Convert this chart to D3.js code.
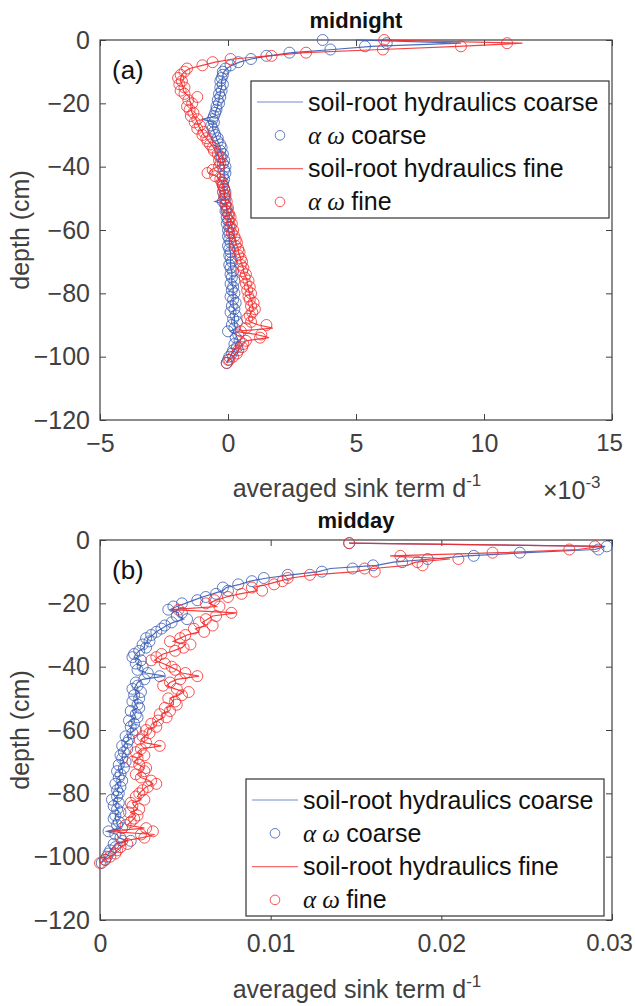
<!DOCTYPE html>
<html>
<head>
<meta charset="utf-8">
<script src="https://cdn.jsdelivr.net/npm/d3@7"></script>
<style>
  body { margin: 0; background: #fff; }
  svg { display: block; font-family: "Liberation Sans", Arial, sans-serif; }
</style>
</head>
<body>
<div id="chart"></div>
<script>
// depth of every layer (cm)
const depth = [0,-1,-2,-3,-4,-5,-6,-7,-8,-9,-10,-11,-12,-13,-14,-15,-16,-17,-18,-19,
  -20,-21,-22,-23,-24,-25,-26,-27,-28,-29,-30,-31,-32,-33,-34,-35,-36,-37,-38,-39,
  -40,-41,-42,-43,-44,-45,-46,-47,-48,-49,-50,-51,-52,-53,-54,-55,-56,-57,-58,-59,
  -60,-61,-62,-63,-64,-65,-66,-67,-68,-69,-70,-71,-72,-73,-74,-75,-76,-77,-78,-79,
  -80,-81,-82,-83,-84,-85,-86,-87,-88,-89,-90,-91,-92,-93,-94,-95,-96,-97,-98,-99,
  -100,-101,-102];

// (a) midnight, values x 1e-3
const aCoarseLine = [5.0,9.1,5.6,4.1,2.5,1.6,0.9,0.45,0.15,-0.05,
  -0.15,-0.2,-0.2,-0.25,-0.25,-0.25,-0.3,-0.3,-0.35,-0.35,
  -0.4,-0.4,-0.45,-0.5,-0.5,-1.0,-0.55,-0.6,-0.6,-0.55,
  -0.5,-0.45,-0.4,-0.35,-0.3,-0.3,-0.25,-0.2,-0.2,-0.2,
  -0.15,-0.15,-0.15,-0.15,-0.15,-0.2,-0.15,-0.15,-0.1,-0.15,
  -0.1,-0.5,-0.1,-0.05,-0.05,-0.05,0,0,0,0.05,
  0,0.05,0.05,0.05,0.05,0.05,0.05,0.1,0.1,0.1,
  0.1,0.1,0.1,0.15,0.15,0.15,0.15,0.15,0.2,0.2,
  0.2,0.2,0.2,0.2,0.2,0.25,0.2,0.25,0.25,0.25,
  0.25,0.3,0.1,0.3,0.35,0.4,0.3,0.3,0.25,0.15,
  0.1,0.0,-0.05];
const aCoarsePts = [3.7,6.2,5.35,4.0,2.4,1.5,0.9,0.4,0.1,-0.1,
  -0.2,-0.2,-0.25,-0.3,-0.2,-0.3,-0.25,-0.35,-0.3,-0.4,
  -0.35,-0.45,-0.45,-0.5,-0.55,-0.6,-0.55,-0.65,-0.6,-0.55,
  -0.5,-0.4,-0.4,-0.3,-0.25,-0.3,-0.2,-0.25,-0.15,-0.2,
  -0.1,-0.15,-0.1,-0.2,-0.15,-0.2,-0.2,-0.15,-0.1,-0.15,
  -0.1,-0.2,-0.1,-0.05,-0.1,0,-0.05,0,-0.05,0.05,
  0,0.05,0,0.05,0.1,0,0.05,0.1,0.05,0.1,
  0.15,0.05,0.1,0.2,0.1,0.15,0.25,0.1,0.2,0.15,
  0.25,0.1,0.2,0.3,0.15,0.25,0.1,0.3,0.2,0.35,
  0.15,0.25,0.0,0.4,0.3,0.45,0.25,0.35,0.2,0.15,
  0.05,0.0,-0.05];
const aFineLine = [6.0,11.5,9.0,6.0,3.0,1.6,0.2,-0.5,-1.0,-1.5,
  -1.7,-1.8,-1.85,-1.85,-1.8,-1.75,-1.75,-1.65,-1.5,-1.5,
  -1.45,-1.45,-1.45,-1.4,-1.35,-1.25,-1.2,-1.15,-1.1,-1.0,
  -0.95,-0.85,-0.75,-0.65,-0.55,-0.5,-0.4,-0.35,-0.3,-0.3,
  -0.4,-0.65,-0.75,-0.45,-0.3,-0.25,-0.2,-0.2,-0.15,-0.15,
  -0.1,-0.1,-0.05,-0.05,0,0.05,0.05,0.1,0.1,0.15,
  0.15,0.2,0.25,0.3,0.3,0.35,0.4,0.4,0.45,0.5,
  0.5,0.55,0.6,0.6,0.65,0.7,0.75,0.75,0.8,0.8,
  0.85,0.85,0.9,0.95,0.95,1.0,0.9,0.85,0.8,0.85,
  1.2,1.75,0.3,1.1,1.6,0.7,0.55,0.5,0.4,0.3,
  0.2,0.05,-0.05];
const aFinePts = [6.1,10.9,9.1,6.05,3.05,1.7,0.1,-0.6,-1.0,-1.6,
  -1.7,-1.85,-1.95,-1.8,-1.9,-1.7,-1.85,-1.7,-1.2,-1.55,
  -1.4,-1.6,-1.5,-1.35,-1.45,-1.2,-1.3,-1.1,-1.2,-0.95,
  -1.0,-0.85,-0.8,-0.7,-0.6,-0.55,-0.4,-0.3,-0.35,-0.3,
  -0.35,-0.6,-0.8,-0.5,-0.3,-0.25,-0.2,-0.15,-0.2,-0.1,
  -0.15,-0.05,-0.1,0,-0.05,0.05,0.1,0.05,0.15,0.1,
  0.2,0.15,0.25,0.3,0.35,0.3,0.4,0.45,0.4,0.5,
  0.55,0.5,0.6,0.55,0.7,0.65,0.8,0.7,0.85,0.75,
  0.9,0.8,0.85,1.0,0.9,1.05,0.95,0.85,0.75,0.9,
  1.5,0.7,0.5,1.3,1.25,0.7,0.6,0.55,0.4,0.35,
  0.2,0.05,-0.05];

// (b) midday
const bCoarseLine = [null,0.0146,0.0296,0.0290,0.0250,0.0215,0.0195,0.0172,0.0162,0.0135,
  0.0128,0.0112,0.0098,0.0088,0.0082,0.0074,0.0072,0.0066,0.0060,0.0055,
  0.0050,0.0045,0.0041,0.0046,0.0046,0.0049,0.0043,0.0039,0.0036,0.0033,
  0.0031,0.0028,0.0028,0.0026,0.0026,0.0023,0.0021,0.0020,0.0023,0.0022,
  0.0024,0.0023,0.0027,0.0038,0.0025,0.0022,0.0021,0.0020,0.0023,0.0021,
  0.0022,0.0020,0.0021,0.0022,0.0019,0.0020,0.0021,0.0018,0.0019,0.0018,
  0.0020,0.0018,0.0016,0.0017,0.0015,0.0014,0.0015,0.0014,0.0013,0.0013,
  0.0014,0.0012,0.0013,0.0011,0.0012,0.0011,0.0012,0.0010,0.0011,0.0010,
  0.0011,0.0010,0.0008,0.0010,0.0009,0.0010,0.0011,0.0009,0.0009,0.0010,
  0.0010,0.0012,0.0004,0.0010,0.0011,0.0016,0.0009,0.0008,0.0006,0.0005,
  0.0004,0.0002,0.0001];
const bCoarsePts = [null,0.0146,0.0297,0.0292,0.0246,0.0219,0.0192,0.0177,0.0160,0.0148,
  0.0130,0.0110,0.0096,0.0089,0.0081,0.0072,0.0075,0.0068,0.0062,0.0057,
  0.0048,0.0043,0.0040,0.0048,0.0045,0.0051,0.0042,0.0038,0.0036,0.0033,
  0.0030,0.0027,0.0029,0.0025,0.0027,0.0023,0.0020,0.0019,0.0024,0.0021,
  0.0025,0.0022,0.0028,0.0035,0.0026,0.0021,0.0022,0.0019,0.0024,0.0020,
  0.0023,0.0019,0.0022,0.0023,0.0018,0.0021,0.0022,0.0017,0.0020,0.0018,
  0.0021,0.0019,0.0015,0.0017,0.0016,0.0013,0.0016,0.0014,0.0012,0.0013,
  0.0015,0.0011,0.0014,0.0010,0.0012,0.0011,0.0013,0.0009,0.0012,0.0010,
  0.0011,0.0010,0.0007,0.0011,0.0008,0.0010,0.0012,0.0009,0.0008,0.0011,
  0.0010,0.0013,0.0005,0.0009,0.0012,0.0018,0.0008,0.0009,0.0006,0.0005,
  0.0004,0.0003,0.0001];
const bFineLine = [null,0.0146,0.0294,0.0280,0.0235,0.0170,0.0205,0.0185,0.0180,0.0160,
  0.0150,0.0125,0.0112,0.0105,0.0098,0.0090,0.0092,0.0082,0.0074,0.0068,
  0.0064,0.0068,0.0042,0.0080,0.0066,0.0063,0.0060,0.0062,0.0056,0.0058,
  0.0051,0.0047,0.0043,0.0050,0.0048,0.0043,0.0037,0.0034,0.0032,0.0037,
  0.0041,0.0045,0.0048,0.0058,0.0045,0.0041,0.0039,0.0044,0.0049,0.0046,
  0.0041,0.0043,0.0043,0.0039,0.0040,0.0036,0.0037,0.0034,0.0031,0.0032,
  0.0028,0.0028,0.0026,0.0024,0.0026,0.0036,0.0024,0.0022,0.0025,0.0022,
  0.0020,0.0023,0.0026,0.0025,0.0022,0.0024,0.0029,0.0031,0.0027,0.0025,
  0.0023,0.0022,0.0024,0.0019,0.0020,0.0022,0.0018,0.0021,0.0020,0.0018,
  0.0016,0.0026,0.0005,0.0032,0.0025,0.0014,0.0015,0.0012,0.0010,0.0009,
  0.0006,0.0003,0.0000];
const bFinePts = [null,0.0146,0.0290,0.0275,0.0230,0.0176,0.0210,0.0186,0.0189,0.0155,
  0.0161,0.0123,0.0110,0.0107,0.0102,0.0089,0.0095,0.0083,0.0075,0.0067,
  0.0062,0.0070,0.0046,0.0077,0.0068,0.0062,0.0058,0.0066,0.0055,0.0061,
  0.0050,0.0047,0.0041,0.0053,0.0049,0.0044,0.0036,0.0033,0.0030,0.0038,
  0.0042,0.0044,0.0050,0.0057,0.0047,0.0041,0.0037,0.0045,0.0052,0.0048,
  0.0040,0.0044,0.0045,0.0038,0.0041,0.0035,0.0039,0.0034,0.0030,0.0033,
  0.0027,0.0029,0.0025,0.0023,0.0027,0.0035,0.0024,0.0021,0.0026,0.0022,
  0.0019,0.0023,0.0027,0.0026,0.0021,0.0024,0.0030,0.0033,0.0028,0.0025,
  0.0023,0.0021,0.0026,0.0018,0.0019,0.0023,0.0017,0.0022,0.0020,0.0018,
  0.0015,0.0027,0.0031,0.0024,0.0026,0.0013,0.0016,0.0012,0.0010,0.0009,
  0.0006,0.0003,0.0000];

const yTicks = [0, -20, -40, -60, -80, -100, -120];
const aXTicks = [-5, 0, 5, 10, 15];
const bXTicks = [0, 0.01, 0.02, 0.03];
const legendLabels = ["soil-root hydraulics coarse", "coarse", "soil-root hydraulics fine", "fine"];

const BLUE = "#3a5cb4", RED = "#f52a2a", AX = "#404040";

const svg = d3.select("#chart").append("svg")
  .attr("width", 635).attr("height", 1006);

function panel(o) {
  const left = 100, right = 612, top = o.top, bottom = o.top + 380;
  const x = d3.scaleLinear().domain(o.xDomain).range([left, right]);
  const y = d3.scaleLinear().domain([-120, 0]).range([bottom, top]);
  const g = svg.append("g");

  // axes (MATLAB box with inward ticks)
  const xAx = g.append("g").attr("transform", `translate(0,${bottom})`)
    .call(d3.axisBottom(x).tickValues(o.xTicks).tickSize(-6).tickPadding(14).tickFormat(o.fmt))
    .call(a => a.select(".domain").remove());
  g.append("g").attr("transform", `translate(0,${top})`)
    .call(d3.axisTop(x).tickValues(o.xTicks).tickSize(-6).tickFormat(""))
    .call(a => a.select(".domain").remove());
  g.append("g").attr("transform", `translate(${left},0)`)
    .call(d3.axisLeft(y).tickValues(yTicks).tickSize(-6).tickPadding(10))
    .call(a => a.select(".domain").remove());
  g.append("g").attr("transform", `translate(${right},0)`)
    .call(d3.axisRight(y).tickValues(yTicks).tickSize(-6).tickFormat(""))
    .call(a => a.select(".domain").remove());
  g.selectAll(".tick line").attr("stroke", AX);
  g.selectAll(".tick text").attr("fill", AX).attr("font-size", 25)
    .attr("font-family", "Liberation Sans, Arial, sans-serif");
  // keep the last x label inside the page
  xAx.selectAll(".tick text").filter(d => d === o.xTicks[o.xTicks.length - 1])
    .attr("font-size", 24).attr("dx", -3);
  g.append("rect").attr("x", left).attr("y", top)
    .attr("width", right - left).attr("height", bottom - top)
    .attr("fill", "none").attr("stroke", AX).attr("stroke-width", 1.2);

  const series = [
    { v: o.coarseLine, pts: o.coarsePts, c: BLUE },
    { v: o.fineLine, pts: o.finePts, c: RED }
  ];
  series.forEach(s => {
    const line = d3.line()
      .defined((d, i) => s.v[i] != null)
      .x((d, i) => x(s.v[i]))
      .y(d => y(d));
    g.append("path").datum(depth)
      .attr("fill", "none").attr("stroke", s.c).attr("stroke-width", 1.2)
      .attr("stroke-opacity", 0.9).attr("d", line);
    g.append("g").selectAll("circle")
      .data(depth.filter((d, i) => s.pts[i] != null).map(d => ({ d, v: s.pts[-d] })))
      .join("circle")
      .attr("cx", p => x(p.v)).attr("cy", p => y(p.d)).attr("r", 5.5)
      .attr("fill", "none").attr("stroke", s.c).attr("stroke-width", 1)
      .attr("stroke-opacity", 0.8);
  });

  // title and panel letter
  g.append("text").attr("x", (left + right) / 2).attr("y", top - 12)
    .attr("text-anchor", "middle").attr("font-weight", "bold").attr("font-size", 22)
    .attr("fill", "#111").text(o.title);
  g.append("text").attr("x", 112).attr("y", top + 39)
    .attr("font-size", 26).attr("fill", "#111").text(o.letter);

  // axis labels
  const xl = g.append("text").attr("x", o.xLabelX).attr("y", o.xLabelY)
    .attr("text-anchor", "middle").attr("font-size", 25).attr("fill", AX);
  xl.append("tspan").text("averaged sink term d");
  xl.append("tspan").attr("dy", -11).attr("font-size", 17).text("-1");
  g.append("text")
    .attr("transform", `translate(29,${(top + bottom) / 2}) rotate(-90)`)
    .attr("text-anchor", "middle").attr("font-size", 25).attr("fill", AX)
    .text("depth (cm)");

  // legend
  const lg = g.append("g").attr("transform", `translate(${o.leg[0]},${o.leg[1]})`);
  lg.append("rect").attr("width", 358).attr("height", 137)
    .attr("fill", "#fff").attr("stroke", "#333").attr("stroke-width", 1.2);
  const rows = [
    { t: "line", c: BLUE, label: legendLabels[0], greek: false },
    { t: "pt", c: BLUE, label: legendLabels[1], greek: true },
    { t: "line", c: RED, label: legendLabels[2], greek: false },
    { t: "pt", c: RED, label: legendLabels[3], greek: true }
  ];
  rows.forEach((r, i) => {
    const cy = 21 + i * 33.3;
    if (r.t === "line") {
      lg.append("line").attr("x1", 6).attr("x2", 52).attr("y1", cy).attr("y2", cy)
        .attr("stroke", r.c).attr("stroke-width", 1.2).attr("stroke-opacity", 0.7);
    } else {
      lg.append("circle").attr("cx", 29).attr("cy", cy).attr("r", 4.8)
        .attr("fill", "none").attr("stroke", r.c).attr("stroke-opacity", 0.8);
    }
    const tx = lg.append("text").attr("x", 57).attr("y", cy + 8.5)
      .attr("font-size", 25).attr("fill", "#111");
    if (r.greek) {
      tx.append("tspan").attr("font-family", "Liberation Serif, serif")
        .attr("font-style", "italic").text("\u03b1 \u03c9 ");
    }
    tx.append("tspan").text(r.label);
  });
  return g;
}

const pa = panel({
  top: 40, xDomain: [-5, 15], xTicks: aXTicks, fmt: d3.format("d"),
  coarseLine: aCoarseLine, coarsePts: aCoarsePts, fineLine: aFineLine, finePts: aFinePts,
  title: "midnight", letter: "(a)", xLabelX: 357, xLabelY: 497, leg: [251, 81]
});
// exponent of the midnight axis
const ex = pa.append("text").attr("x", 543).attr("y", 499)
  .attr("font-size", 25).attr("fill", AX);
ex.append("tspan").text("\u00d710");
ex.append("tspan").attr("dy", -11).attr("font-size", 17).text("-3");

panel({
  top: 540, xDomain: [0, 0.03], xTicks: bXTicks, fmt: d => d === 0 ? "0" : d3.format(".2f")(d),
  coarseLine: bCoarseLine, coarsePts: bCoarsePts, fineLine: bFineLine, finePts: bFinePts,
  title: "midday", letter: "(b)", xLabelX: 357, xLabelY: 998, leg: [246, 779]
});
</script>
</body>
</html>
